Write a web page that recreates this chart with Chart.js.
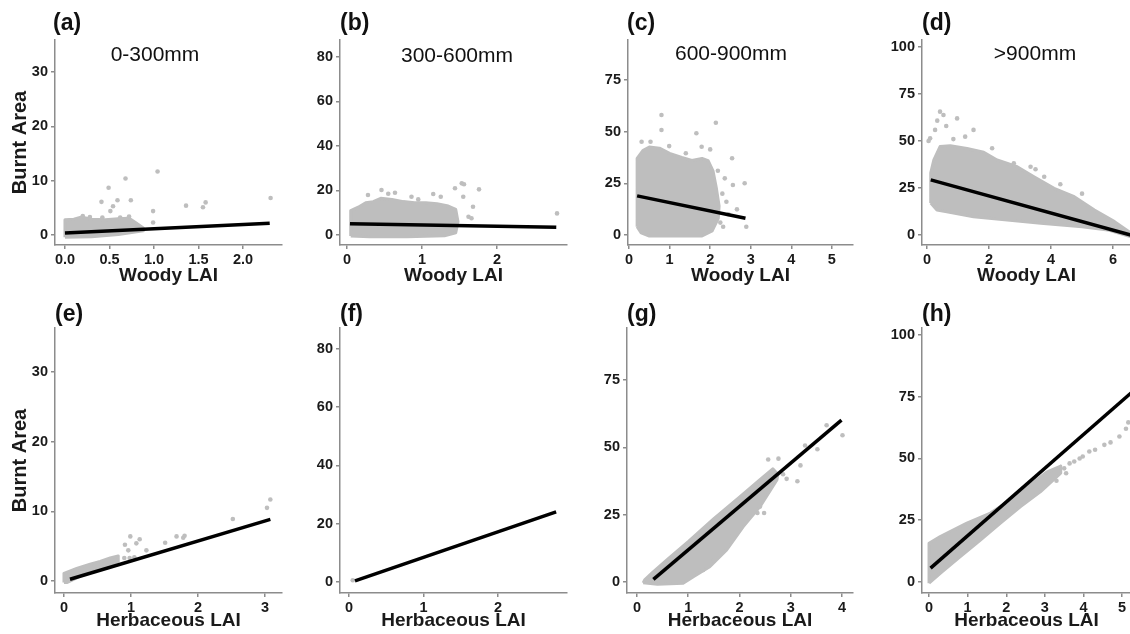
<!DOCTYPE html>
<html><head><meta charset="utf-8">
<script src="https://cdn.jsdelivr.net/npm/chart.js@4.4.1/dist/chart.umd.min.js"></script>
<style>
html,body{margin:0;padding:0;background:#fff;width:1130px;height:634px;overflow:hidden;position:relative;font-family:"Liberation Sans",Arial,sans-serif}
canvas{position:absolute}
.lab{position:absolute;font-weight:bold;font-size:23px;line-height:23px;color:#111;white-space:nowrap}
.ttl{position:absolute;font-size:21px;line-height:21px;color:#111;white-space:nowrap;transform:translateX(-50%)}
</style></head><body>
<script>
// ---------------- DATA ----------------
const panelIds = ['a','b','c','d','e','f','g','h'];
const panelLabels = ['(a)','(b)','(c)','(d)','(e)','(f)','(g)','(h)'];
const rainfallTitles = ['0-300mm','300-600mm','600-900mm','>900mm'];
const xTitles = ['Woody LAI','Woody LAI','Woody LAI','Woody LAI','Herbaceous LAI','Herbaceous LAI','Herbaceous LAI','Herbaceous LAI'];
const yTitle = 'Burnt Area';

// tick labels
const xTicksA = ['0.0','0.5','1.0','1.5','2.0'];
const xTicksB = ['0','1','2'];
const xTicksC = ['0','1','2','3','4','5'];
const xTicksD = ['0','2','4','6'];
const xTicksE = ['0','1','2','3'];
const xTicksF = ['0','1','2'];
const xTicksG = ['0','1','2','3','4'];
const xTicksH = ['0','1','2','3','4','5'];
const yTicksCol1 = ['0','10','20','30'];
const yTicksCol2 = ['0','20','40','60','80'];
const yTicksCol3 = ['0','25','50','75'];
const yTicksCol4 = ['0','25','50','75','100'];

// axis ranges [min, max]
const xRangeA = [-0.112, 2.438], yRangeA = [-1.84, 35.9];
const xRangeB = [-0.093, 2.933], yRangeB = [-4.49, 87.6];
const xRangeC = [-0.025, 5.52],  yRangeC = [-4.84, 94.3];
const xRangeD = [-0.162, 6.58],  yRangeD = [-5.32, 103.7];
const xRangeE = [-0.134, 3.254], yRangeE = [-1.72, 36.3];
const xRangeF = [-0.121, 2.926], yRangeF = [-3.78, 87.2];
const xRangeG = [-0.195, 4.215], yRangeG = [-4.08, 94.3];
const xRangeH = [-0.182, 5.23],  yRangeH = [-4.45, 102.8];

// dense point clouds, outlined as [LAI, burnt area]
const cloudA = [[0.0,-0.4],[0.0,2.8],[0.1,2.9],[0.18,3.3],[0.3,2.9],[0.45,2.8],[0.6,3.0],[0.72,3.1],[0.8,2.2],[0.88,1.3],[0.88,0.8],[0.6,0.1],[0.3,-0.3],[0.0,-0.4]];
const cloudB = [[0.05,-0.5],[0.05,11],[0.15,12.5],[0.25,14.5],[0.35,15],[0.45,16.5],[0.6,16],[0.75,15],[0.9,14.5],[1.05,14.5],[1.2,14],[1.35,13],[1.45,11.5],[1.48,6],[1.45,1],[1.3,-0.3],[0.8,-0.8],[0.3,-0.8],[0.05,-0.5]];
const cloudC = [[0.2,4],[0.2,37],[0.35,41],[0.5,42.5],[0.75,42],[1.0,39.5],[1.3,37.5],[1.55,36],[1.8,37],[1.95,36],[2.07,31],[2.15,23],[2.22,14],[2.2,8],[2.05,2],[1.8,-0.5],[0.5,-0.5],[0.3,1],[0.2,4]];
const cloudD = [[0.12,17],[0.12,33],[0.22,40],[0.42,47],[0.75,47.5],[1.29,46],[1.83,44],[2.26,39.9],[2.91,36.3],[3.45,31],[4.1,24.8],[4.75,20.4],[5.4,13.3],[6.05,7.1],[6.58,1],[6.58,-0.9],[5.83,2.7],[5.0,4.4],[3.67,6.2],[2.59,8],[1.5,9.7],[0.64,12.4],[0.32,13.3],[0.12,17]];
const cloudE = [[0.0,-0.2],[0.0,1.1],[0.19,1.8],[0.39,2.4],[0.54,2.8],[0.69,3.3],[0.81,3.6],[0.81,2.8],[0.54,1.8],[0.29,0.9],[0.05,-0.2],[0.0,-0.2]];
const cloudF = [];
const cloudG = [[0.12,-0.3],[0.15,0.8],[0.3,3.5],[0.6,8.5],[1.0,15],[1.5,23.5],[2.0,31.5],[2.4,38],[2.65,42],[2.75,40],[2.73,37.9],[2.4,28],[2.07,20.5],[1.75,11.9],[1.42,5.7],[1.1,2.0],[0.9,-0.5],[0.4,-0.8],[0.12,-0.3]];
const cloudH = [[0.0,-0.5],[0.0,15.7],[0.29,18.4],[0.98,23.8],[1.59,27.9],[2.02,32.3],[2.54,38.3],[3.06,44.6],[3.41,46.9],[3.41,44.1],[2.89,36.6],[2.37,30.5],[1.85,23.8],[1.33,17],[0.81,10.3],[0.29,3.5],[0.0,-0.5]];

// isolated points
const pointsA = [[0.41,6.1],[0.49,8.7],[0.51,4.4],[0.54,5.3],[0.59,6.4],[0.68,10.4],[0.74,6.4],[0.99,4.4],[0.99,2.3],[1.04,11.7],[1.36,5.4],[1.55,5.1],[1.58,6.0],[2.31,6.8],[0.2,3.5],[0.28,3.3],[0.42,3.2],[0.62,3.2],[0.72,3.4]];
const pointsB = [[0.28,18],[0.46,20.2],[0.55,18.5],[0.64,19],[0.86,17.2],[0.95,16],[1.15,18.4],[1.25,17.2],[1.44,21],[1.53,23.2],[1.56,22.8],[1.55,17.2],[1.76,20.5],[1.68,12.7],[1.62,8.2],[1.66,7.5],[2.8,9.7]];
const pointsC = [[0.31,45.1],[0.53,45.1],[0.8,58],[0.8,50.8],[0.99,43],[1.4,39.5],[1.66,49.2],[1.79,42.7],[2.0,41.4],[2.14,54.3],[2.19,31.1],[2.36,27.4],[2.54,37.1],[2.56,24.2],[2.4,16.1],[2.85,25],[2.66,12.4],[2.89,4],[2.32,4],[2.25,6],[2.3,20],[2.45,10]];
const pointsD = [[0.1,51.4],[0.26,55.9],[0.42,65.6],[0.53,63.8],[0.33,60.8],[0.62,58],[0.97,62],[1.23,52.3],[1.5,55.9],[0.85,51],[2.1,46.1],[2.8,38.1],[3.34,36.3],[3.5,35],[3.78,31],[4.3,27],[5.0,22],[0.05,50]];
const pointsE = [[0.91,5.2],[0.99,6.4],[0.96,4.4],[1.08,5.4],[1.13,6.0],[1.23,4.4],[1.51,5.5],[1.68,6.4],[1.78,6.2],[1.8,6.5],[2.52,8.9],[3.03,10.5],[3.08,11.7],[0.98,3.3],[1.05,3.4],[0.9,3.3]];
const pointsF = [[0.05,0.6]];
const pointsG = [[2.56,45.5],[2.76,45.8],[2.92,38.3],[3.13,37.4],[3.19,43.3],[3.28,50.7],[3.52,49.3],[3.7,58.2],[4.01,54.5],[2.35,25.6],[2.48,25.6],[2.4,28],[1.68,12.6],[1.85,16.9],[1.29,4.5],[1.5,8],[2.85,40]];
const pointsH = [[3.5,46],[3.64,48],[3.76,48.8],[3.9,50],[3.98,50.8],[4.15,52.8],[4.3,53.5],[4.54,55.5],[4.7,56.5],[4.93,58.9],[5.16,64.6],[3.3,41],[3.55,44],[2.8,37],[5.1,62]];

// fitted lines (end points)
const fitA = [[0.0,0.35],[2.3,2.15]];
const fitB = [[0.04,5.0],[2.79,3.5]];
const fitC = [[0.2,18.9],[2.87,8.1]];
const fitD = [[0.12,29.3],[6.57,0]];
const fitE = [[0.09,0.25],[3.08,8.85]];
const fitF = [[0.08,0.4],[2.78,24.1]];
const fitG = [[0.32,1.0],[3.99,60.1]];
const fitH = [[0.04,5.6],[5.23,76.5]];

// ---------------- LAYOUT / STYLE ----------------
const GEOM = {
  a:{l:55,t:40,r:282,b:245}, b:{l:340,t:40,r:567,b:245}, c:{l:628,t:40,r:853,b:245}, d:{l:922,t:40,r:1131,b:245},
  e:{l:55,t:328,r:282,b:593}, f:{l:340,t:328,r:567,b:593}, g:{l:627,t:328,r:853,b:593}, h:{l:922,t:328,r:1131,b:593}
};
const LABEL_POS = {a:[53,24],b:[340,24],c:[627,24],d:[922,24],e:[55,315],f:[340,315],g:[627,315],h:[922,315]};
const TITLE_POS = [[155,53],[457,54],[731,52],[1035,52]];
const FONT = '"Liberation Sans", Arial, sans-serif';
const GREY = '#bebebe';
const AXIS = '#8c8c8c';
const TXT = '#1a1a1a';

const xTicksAll = [xTicksA,xTicksB,xTicksC,xTicksD,xTicksE,xTicksF,xTicksG,xTicksH];
const yTicksAll = [yTicksCol1,yTicksCol2,yTicksCol3,yTicksCol4,yTicksCol1,yTicksCol2,yTicksCol3,yTicksCol4];
const xRanges = [xRangeA,xRangeB,xRangeC,xRangeD,xRangeE,xRangeF,xRangeG,xRangeH];
const yRanges = [yRangeA,yRangeB,yRangeC,yRangeD,yRangeE,yRangeF,yRangeG,yRangeH];
const clouds = [cloudA,cloudB,cloudC,cloudD,cloudE,cloudF,cloudG,cloudH];
const pointSets = [pointsA,pointsB,pointsC,pointsD,pointsE,pointsF,pointsG,pointsH];
const fits = [fitA,fitB,fitC,fitD,fitE,fitF,fitG,fitH];

const toXY = arr => arr.map(p => ({x:p[0], y:p[1]}));

function scaleOpts(isX, rng, labels, titleText, fixedSize, titlePad, titleSize){
  return {
    type:'linear', position: isX ? 'bottom' : 'left',
    min: rng[0], max: rng[1],
    afterBuildTicks: s => { s.ticks = labels.map(t => ({value: parseFloat(t)})); },
    afterFit: s => { if (isX) s.height = fixedSize; else s.width = fixedSize; },
    ticks: {
      autoSkip:false, maxRotation:0, minRotation:0,
      padding: isX ? 2 : 3, color: TXT,
      font: {family: FONT, size: 14.5, weight: 'bold'},
      callback: v => { const t = labels.find(l => Math.abs(parseFloat(l) - v) < 1e-9); return t === undefined ? '' : t; }
    },
    grid: {display:true, drawOnChartArea:false, drawTicks:true, tickLength:4, color:AXIS, lineWidth:1.5},
    border: {display:true, color:AXIS, width:1.5},
    title: titleText ? {display:true, text:titleText, color:TXT, font:{family:FONT, size:titleSize, weight:'bold'}, padding: titlePad} : {display:false}
  };
}

panelIds.forEach((id, i) => {
  const g = GEOM[id];
  const hasY = (i % 4 === 0);
  const row2 = i >= 4;
  const yW = hasY ? 55 : 40, xH = row2 ? 40 : 43, padT = 12, padR = 12;
  const W = (g.r - g.l) + yW + padR, H = (g.b - g.t) + padT + xH;
  const cv = document.createElement('canvas');
  cv.width = W; cv.height = H;
  cv.style.width = W + 'px'; cv.style.height = H + 'px';
  cv.style.left = (g.l - yW) + 'px'; cv.style.top = (g.t - padT) + 'px';
  document.body.appendChild(cv);

  const datasets = [
    {label:'fit', data: toXY(fits[i]), showLine:true, borderColor:'#000', borderWidth:3.5, borderCapStyle:'butt', pointRadius:0, fill:false, order:0},
    {label:'points', data: toXY(pointSets[i]), showLine:false, pointRadius:2.3, pointBackgroundColor:GREY, pointBorderWidth:0, order:1}
  ];
  if (clouds[i].length) datasets.push({label:'cloud', data: toXY(clouds[i]), showLine:true, fill:'shape', backgroundColor:GREY, borderColor:GREY, borderWidth:3, borderJoinStyle:'round', pointRadius:0, order:2});

  new Chart(cv, {
    type:'scatter',
    data:{datasets},
    options:{
      responsive:false, animation:false, devicePixelRatio:1,
      layout:{padding:{top:padT, right:padR, left:0, bottom:0}},
      plugins:{legend:{display:false}, tooltip:{enabled:false}, title:{display:false}},
      scales:{
        x: scaleOpts(true, xRanges[i], xTicksAll[i], xTitles[i], xH, {top:0, bottom:1}, 19),
        y: scaleOpts(false, yRanges[i], yTicksAll[i], hasY ? yTitle : null, yW, {top:8, bottom:0}, 20)
      }
    }
  });

  const lab = document.createElement('div');
  lab.className = 'lab'; lab.textContent = panelLabels[i];
  lab.style.left = LABEL_POS[id][0] + 'px'; lab.style.top = (LABEL_POS[id][1] - 13.5) + 'px';
  document.body.appendChild(lab);
});

rainfallTitles.forEach((t, j) => {
  const d = document.createElement('div');
  d.className = 'ttl'; d.textContent = t;
  d.style.left = TITLE_POS[j][0] + 'px'; d.style.top = (TITLE_POS[j][1] - 10.3) + 'px';
  document.body.appendChild(d);
});
</script>
</body></html>
